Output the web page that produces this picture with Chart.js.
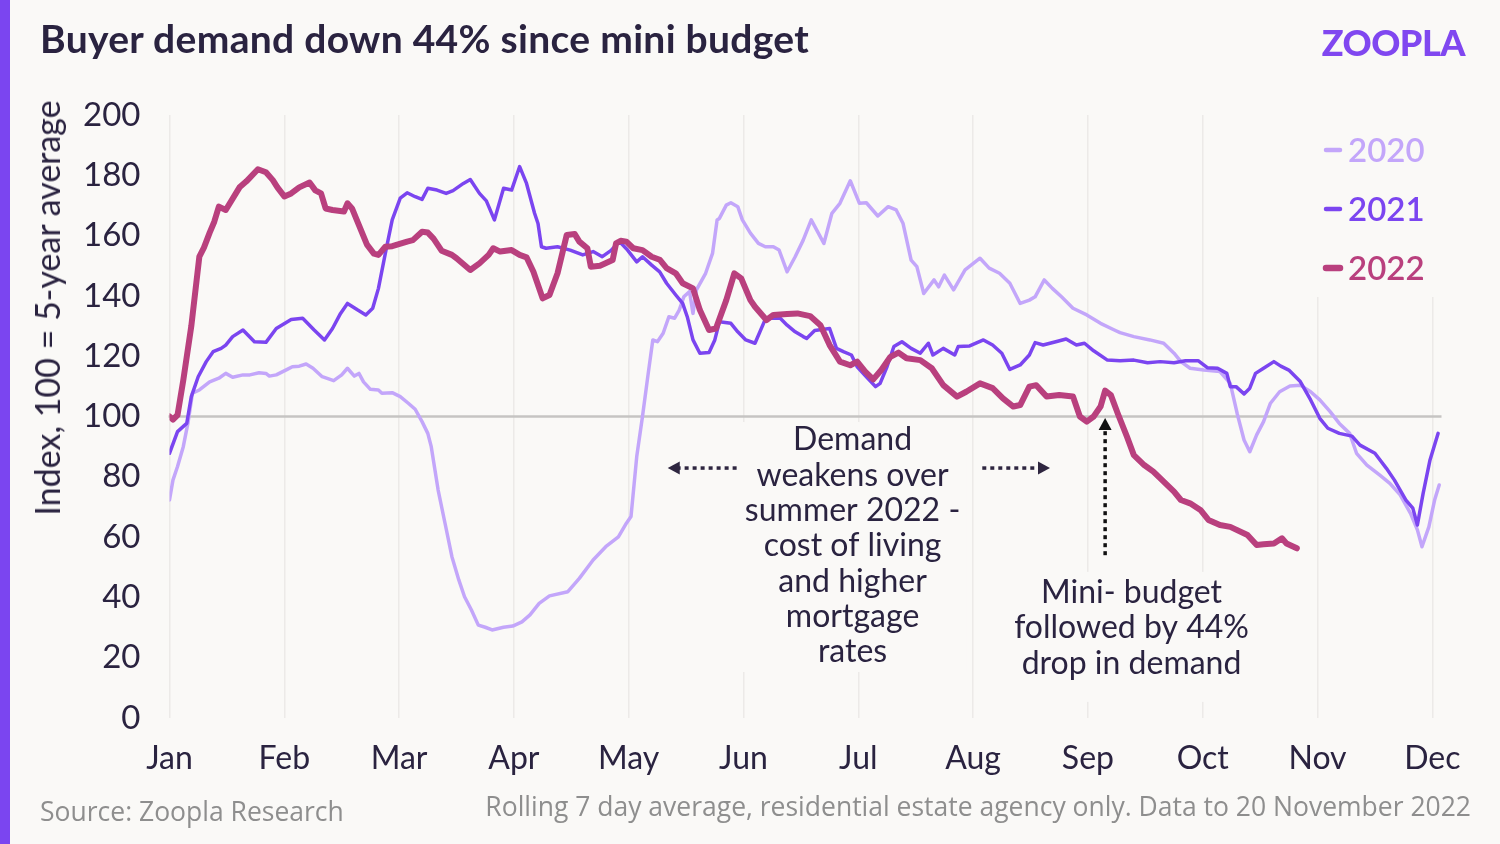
<!DOCTYPE html>
<html>
<head>
<meta charset="utf-8">
<script src="https://cdn.jsdelivr.net/npm/chart.js@4.4.1/dist/chart.umd.min.js"></script>
<style>
  html, body { margin: 0; padding: 0; background: #FAF9F7; }
  #wrap { position: relative; width: 1500px; height: 844px; overflow: hidden; background: #FAF9F7;
          font-family: Lato, 'Noto Sans', sans-serif; color: #2A2340; }
  #chart { position: absolute; left: 0; top: 0; }
  #bar { position: absolute; left: 0; top: 0; width: 10px; height: 844px; background: #7B45F0; }
  #title { position: absolute; left: 40px; top: 17px; font-size: 39px; font-weight: 700; line-height: 42px; letter-spacing: 0.3px; white-space: nowrap; }
  #logo { position: absolute; right: 35px; top: 21px; font-size: 36px; font-weight: 900; line-height: 42px; color: #8047F0;
          text-transform: uppercase; letter-spacing: -0.5px; white-space: nowrap; }
  #ytitle { position: absolute; left: 47px; top: 308px; transform: translate(-50%, -50%) rotate(-90deg);
            font-size: 34px; white-space: nowrap; line-height: 38px; }
  #src { position: absolute; left: 40px; top: 796px; font-family: 'Open Sans', Lato, sans-serif; font-size: 26.5px; line-height: 30px; color: #8E8E8E; white-space: nowrap; }
  #note { position: absolute; right: 29px; top: 791px; font-family: 'Open Sans', Lato, sans-serif; font-size: 26.5px; line-height: 30px; color: #8E8E8E; white-space: nowrap; }
</style>
</head>
<body>
<div id="wrap">
  <canvas id="chart" width="1500" height="844"></canvas>
  <div id="bar"></div>
  <div id="title">Buyer demand down 44% since mini budget</div>
  <div id="logo">zoopla</div>
  <div id="ytitle">Index, 100 = 5-year average</div>
  <div id="src">Source: Zoopla Research</div>
  <div id="note">Rolling 7 day average, residential estate agency only. Data to 20 November 2022</div>
</div>
<script>
// ---------- DATA (x = position in months from 1 Jan, value = index) ----------
const months = ['Jan','Feb','Mar','Apr','May','Jun','Jul','Aug','Sep','Oct','Nov','Dec'];
const yTicks = [0,20,40,60,80,100,120,140,160,180,200];
const seriesNames = ['2020','2021','2022'];

const x2020 = [0.00,0.03,0.07,0.12,0.16,0.20,0.26,0.35,0.43,0.49,0.55,0.64,0.70,0.78,0.84,0.87,0.93,1.03,1.07,1.13,1.19,1.25,1.33,1.43,1.50,1.55,1.61,1.65,1.69,1.75,1.82,1.85,1.94,2.01,2.08,2.14,2.20,2.25,2.28,2.34,2.40,2.46,2.52,2.57,2.63,2.69,2.75,2.81,2.91,2.99,3.07,3.14,3.22,3.31,3.47,3.57,3.69,3.80,3.91,3.98,4.02,4.07,4.12,4.17,4.21,4.25,4.30,4.35,4.40,4.44,4.48,4.53,4.56,4.59,4.67,4.73,4.77,4.79,4.85,4.89,4.95,4.99,5.06,5.13,5.19,5.26,5.31,5.38,5.45,5.52,5.59,5.70,5.77,5.84,5.93,6.01,6.07,6.17,6.26,6.33,6.39,6.46,6.51,6.57,6.66,6.70,6.75,6.83,6.93,7.06,7.14,7.23,7.32,7.41,7.49,7.54,7.62,7.69,7.77,7.87,7.99,8.11,8.23,8.28,8.40,8.54,8.66,8.75,8.81,8.89,9.01,9.15,9.24,9.30,9.36,9.41,9.47,9.53,9.59,9.67,9.76,9.85,9.94,10.02,10.11,10.19,10.28,10.34,10.43,10.54,10.63,10.72,10.81,10.87,10.91,10.97,11.02,11.06];
const v2020 = [72.3,78.9,83.4,90,97.7,107.7,108.8,111.5,112.7,114.3,113,113.8,113.8,114.5,114.3,113.4,113.8,115.7,116.5,116.7,117.4,116,113.2,111.9,113.8,116,113.4,114.3,111.5,109,108.8,107.7,107.9,106.6,104.4,102.4,98.3,94.4,90,75.6,64.6,53.5,45.8,40.2,35.8,30.8,30.1,29.2,30.1,30.5,31.9,34.2,38,40.5,41.9,46.3,52.4,56.8,60.1,64.6,66.8,86.7,100,114.3,125.4,124.8,127.6,133.1,132.6,135.3,139.7,141.4,134.2,142,147.5,154.1,165.2,165.7,170.1,170.9,169.6,165.2,160.8,157.4,156.3,156.3,155.2,148,153,158.5,165.2,157.4,167.4,170.7,178.2,170.7,170.9,166.5,169.6,168.5,164,151.9,149.7,140.8,145.3,143,146.9,142,148.6,152.5,149.2,147.5,144.2,137.5,138.6,139.7,145.3,142.5,139.7,135.9,133.7,130.9,128.7,127.8,126.5,125.4,124.3,121,118.2,116,115.4,114.9,111,101,92.2,88.3,93.9,98.3,104.4,108.2,110.1,110.4,108.2,105.5,101.6,97.7,94.4,87.8,83.9,80.6,77.8,74,67.9,62.4,56.8,63.4,72.3,77.3];

const x2021 = [0.00,0.07,0.15,0.19,0.25,0.32,0.38,0.45,0.49,0.55,0.64,0.74,0.84,0.93,1.06,1.16,1.26,1.35,1.42,1.49,1.55,1.64,1.71,1.77,1.82,1.88,1.94,2.01,2.07,2.14,2.20,2.25,2.33,2.41,2.47,2.56,2.62,2.70,2.76,2.83,2.91,2.98,3.05,3.11,3.18,3.21,3.24,3.28,3.38,3.49,3.60,3.69,3.77,3.85,3.92,3.99,4.07,4.12,4.20,4.27,4.33,4.41,4.47,4.51,4.56,4.62,4.70,4.75,4.79,4.89,4.95,5.02,5.10,5.18,5.23,5.32,5.38,5.45,5.52,5.55,5.62,5.75,5.81,5.87,5.94,5.99,6.07,6.15,6.19,6.25,6.31,6.38,6.46,6.54,6.61,6.65,6.74,6.84,6.87,6.97,7.09,7.17,7.25,7.32,7.41,7.49,7.54,7.61,7.72,7.81,7.90,7.97,8.05,8.17,8.28,8.40,8.52,8.63,8.75,8.85,8.96,9.04,9.13,9.21,9.24,9.29,9.36,9.41,9.46,9.53,9.62,9.68,9.75,9.85,9.94,10.02,10.09,10.19,10.30,10.37,10.50,10.60,10.67,10.72,10.77,10.83,10.87,10.92,10.98,11.05];
const v2021 = [87.8,95,97.7,106.6,113.2,118.2,121.5,122.6,123.7,126.5,128.7,124.8,124.6,129.2,132.2,132.6,128.7,125.4,129.2,134.2,137.5,135.3,133.7,135.9,142.5,154.1,165.2,172.4,174.2,172.9,172,175.7,175.1,174,174.9,177.3,178.6,174,171.5,165.2,175.7,175.1,182.9,177.3,167.4,164,156.3,155.8,156.3,155.2,153.6,154.7,153,155.2,158,155.2,151.3,153,150.2,148,144.2,140.3,137.5,133.1,125.4,121,121.2,125.4,131.4,130.9,128.1,125.4,124.3,131.4,132.6,132.6,130.3,128.1,126.5,125.9,128.5,129.2,122.6,121.5,120.4,116.5,113.2,109.9,111,116.5,123.2,124.8,122.6,121,124.3,120.4,122.6,120.4,123.2,123.4,125.4,123.7,121,115.6,117.1,120.4,124.5,123.7,124.8,125.7,123.7,124.3,121.8,118.7,118.5,118.7,117.8,118.2,117.8,118.5,118.5,116.2,116,114.3,109.9,109.9,107.5,109.4,114.3,116,118.2,116.7,115.4,111.6,105.5,99.4,96.1,94.4,93.5,90.5,87.8,82.8,78.9,75.6,72.3,69.6,64,74.5,85.6,94.4];

const x2022 = [0.00,0.03,0.07,0.12,0.19,0.26,0.30,0.35,0.39,0.43,0.49,0.61,0.67,0.77,0.84,0.90,0.94,1.00,1.06,1.13,1.22,1.27,1.32,1.36,1.42,1.52,1.55,1.59,1.65,1.72,1.78,1.82,1.88,1.94,2.07,2.12,2.20,2.25,2.30,2.37,2.46,2.50,2.62,2.70,2.78,2.82,2.88,2.98,3.05,3.11,3.17,3.25,3.31,3.38,3.46,3.53,3.57,3.64,3.67,3.75,3.86,3.89,3.93,3.98,4.04,4.12,4.20,4.27,4.33,4.41,4.47,4.56,4.62,4.70,4.76,4.85,4.92,4.98,5.06,5.10,5.20,5.26,5.38,5.47,5.58,5.67,5.75,5.84,5.93,5.99,6.06,6.13,6.20,6.28,6.35,6.42,6.54,6.64,6.74,6.86,6.94,7.06,7.17,7.26,7.35,7.41,7.49,7.55,7.64,7.75,7.87,7.93,7.99,8.05,8.11,8.15,8.20,8.26,8.34,8.40,8.49,8.57,8.66,8.75,8.81,8.89,8.98,9.05,9.15,9.24,9.39,9.47,9.53,9.62,9.69,9.73,9.82];
const v2022 = [100,99,100.5,112,130,153,156,161,164.6,169.6,168.5,176,178,182,181,178.4,176,173,174,176,177.6,175,174,169,168.5,168,170.7,169,163.5,157,154,153.6,156.3,156.5,158,158.5,161.3,161,159,155,153.6,152.5,148.6,150.8,153.6,155.8,154.7,155.2,153.6,152.8,148,139.2,140.3,147.5,160.2,160.5,158,155.8,149.7,150,151.9,157.4,158.3,158,155.8,155.2,153,152,149.2,147.5,144.2,142.5,135.3,128.7,129.2,138.6,147.5,145.8,138.6,136.4,132,133.7,134,134.2,133.3,130.3,123.7,118.2,117,118.2,114.9,112.3,115.4,119.8,121.2,119.3,118.7,116,110.4,106.6,108.2,111,109.4,106,103.3,103.8,109.9,110.4,106.6,107.1,106.6,100,98.3,100,103.3,108.6,107.1,101,93.3,87.2,83.9,81.7,78.4,75.1,72.3,71.2,69,65.7,64,63.4,60.7,57.4,57.6,57.9,59.6,57.9,56.3];

// annotation anchors in data units (month position, index value)
const demandNote = { x: 5.95, y: 92.2, lines: ['Demand','weakens over','summer 2022 -','cost of living','and higher','mortgage','rates'] };
const budgetNote = { x: 8.38, y: 41.5, lines: ['Mini- budget','followed by 44%','drop in demand'] };
const arrowLeft  = { from: 4.94, to: 4.34, y: 82.9 };
const arrowRight = { from: 7.08, to: 7.67, y: 82.9 };
const arrowUp    = { x: 8.15, from: 54, to: 99.5 };

// ---------- STYLE ----------
const BG = '#FAF9F7';
const INK = '#2A2340';
const colours = ['#C3A6FA', '#7B45F0', '#B9407E'];
const widths = [3.5, 3.5, 6];
const FONT = "Lato, 'Noto Sans', sans-serif";

function pts(xs, vs) { return xs.map((x, i) => ({ x: x, y: vs[i] })); }
const seriesX = [x2020, x2021, x2022];
const seriesV = [v2020, v2021, v2022];

function dottedLine(ctx, x1, y1, x2, y2, colour) {
  ctx.save();
  ctx.strokeStyle = colour; ctx.lineWidth = 3.5; ctx.setLineDash([4, 4]);
  ctx.beginPath(); ctx.moveTo(x1, y1); ctx.lineTo(x2, y2); ctx.stroke();
  ctx.restore();
}
function head(ctx, tipX, tipY, dx, dy, colour) {
  const L = 12, W = 6.5;
  const bx = tipX - dx * L, by = tipY - dy * L;
  ctx.save(); ctx.fillStyle = colour;
  ctx.beginPath();
  ctx.moveTo(tipX, tipY);
  ctx.lineTo(bx - dy * W, by + dx * W);
  ctx.lineTo(bx + dy * W, by - dx * W);
  ctx.closePath(); ctx.fill(); ctx.restore();
}

const decor = {
  id: 'decor',
  beforeDatasetsDraw(chart) {
    const { ctx, chartArea: a, scales: { x, y } } = chart;
    ctx.save();
    ctx.fillStyle = BG;
    ctx.fillRect(1298, a.top - 4, 202, 186);
    const dx = x.getPixelForValue(demandNote.x), dy = y.getPixelForValue(demandNote.y);
    ctx.fillRect(dx - 114, dy - 18, 228, 250);
    const bx = x.getPixelForValue(budgetNote.x), by = y.getPixelForValue(budgetNote.y);
    ctx.fillRect(bx - 125, by - 21, 250, 130);
    const y100 = y.getPixelForValue(100);
    ctx.strokeStyle = '#C6C4C3'; ctx.lineWidth = 2.5;
    ctx.beginPath(); ctx.moveTo(a.left - 1, y100); ctx.lineTo(a.right, y100); ctx.stroke();
    ctx.restore();
  },
  afterDatasetsDraw(chart) {
    const { ctx, scales: { x, y } } = chart;
    ctx.save();
    ctx.fillStyle = INK;
    ctx.font = '32px ' + FONT;
    ctx.textAlign = 'center'; ctx.textBaseline = 'middle';
    const LH = 35.3;
    let px = x.getPixelForValue(demandNote.x), py = y.getPixelForValue(demandNote.y);
    demandNote.lines.forEach((t, i) => ctx.fillText(t, px, py + i * LH));
    px = x.getPixelForValue(budgetNote.x); py = y.getPixelForValue(budgetNote.y);
    budgetNote.lines.forEach((t, i) => ctx.fillText(t, px, py + i * LH));
    const ay = y.getPixelForValue(arrowLeft.y);
    let x1 = x.getPixelForValue(arrowLeft.from), x2 = x.getPixelForValue(arrowLeft.to);
    dottedLine(ctx, x1, ay, x2 + 10, ay, '#2E2640');
    head(ctx, x2, ay, -1, 0, '#2E2640');
    x1 = x.getPixelForValue(arrowRight.from); x2 = x.getPixelForValue(arrowRight.to);
    dottedLine(ctx, x1, ay, x2 - 10, ay, '#2E2640');
    head(ctx, x2, ay, 1, 0, '#2E2640');
    const vx = x.getPixelForValue(arrowUp.x);
    const y1 = y.getPixelForValue(arrowUp.from), y2 = y.getPixelForValue(arrowUp.to);
    dottedLine(ctx, vx, y1, vx, y2 + 10, '#111111');
    head(ctx, vx, y2, 0, -1, '#111111');
    const legY = [150, 209, 268];
    seriesNames.forEach((n, i) => {
      ctx.strokeStyle = colours[i]; ctx.lineWidth = i === 2 ? 6.5 : 4.5; ctx.lineCap = 'round';
      ctx.beginPath(); ctx.moveTo(1326, legY[i]); ctx.lineTo(1340, legY[i]); ctx.stroke();
      ctx.fillStyle = colours[i];
      ctx.font = '600 33px ' + FONT;
      ctx.textAlign = 'left';
      ctx.fillText(n, 1348, legY[i] + 1);
    });
    ctx.restore();
  }
};

const datasets = seriesNames.map((n, i) => ({
  label: n,
  data: pts(seriesX[i], seriesV[i]),
  borderColor: colours[i],
  backgroundColor: colours[i],
  borderWidth: widths[i],
  pointRadius: 0,
  tension: 0,
  borderJoinStyle: 'round',
  borderCapStyle: 'round',
  order: 3 - i
}));

new Chart(document.getElementById('chart'), {
  type: 'line',
  data: { datasets },
  options: {
    responsive: false,
    animation: false,
    layout: { padding: { top: 115, right: 58.5, bottom: 0, left: 0 } },
    plugins: { legend: { display: false }, tooltip: { enabled: false } },
    scales: {
      x: {
        type: 'linear', min: 0, max: 11.08,
        afterBuildTicks: s => { s.ticks = months.map((m, i) => ({ value: i })); },
        afterFit: s => { s.height = 126; },
        ticks: { callback: v => months[v], color: INK, font: { family: FONT, size: 32 }, padding: 21, maxRotation: 0, autoSkip: false },
        grid: { color: '#ECEAE8', lineWidth: 1.5, drawTicks: false },
        border: { display: false }
      },
      y: {
        min: 0, max: 200,
        afterBuildTicks: s => { s.ticks = yTicks.map(v => ({ value: v })); },
        afterFit: s => { s.width = 169.5; },
        ticks: { color: INK, font: { family: FONT, size: 33 }, padding: 29 },
        grid: { display: false, drawTicks: false },
        border: { display: false }
      }
    }
  },
  plugins: [decor]
});
</script>
</body>
</html>
